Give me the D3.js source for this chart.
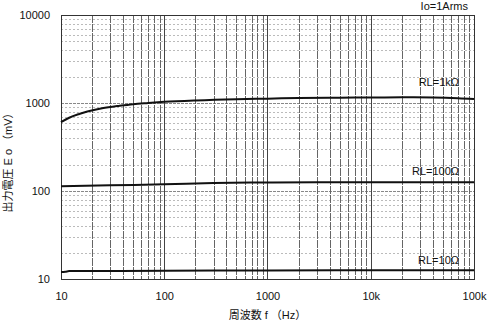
<!DOCTYPE html>
<meta charset="utf-8">
<style>
body { margin: 0; background: #fff; }
svg text { font-family: 'Liberation Sans', 'Noto Sans CJK JP', sans-serif; fill: #111; }
.tick-label { font-size: 11px; }
.ylab { font-size: 11px; }
.series-label { font-size: 11px; }
.grid-v { stroke: #444; stroke-width: 1; }
.grid-v.minor { stroke: #666; stroke-dasharray: 8 1; }
.grid-h { stroke: #bbb; stroke-width: 1; stroke-dasharray: 2 2; }
.grid-h.major { stroke: #888; stroke-dasharray: 3 1; }
.line { fill: none; stroke: #111; stroke-width: 2px; }
</style>
<svg id="svg" width="488" height="328"></svg>
<script src="https://cdn.jsdelivr.net/npm/d3@7"></script>
<script>

// frequency (Hz) / output voltage (mV)
let freq1k = [10, 12, 15, 18, 25, 37, 50, 70, 100, 200, 500, 1000, 2000, 5000, 10000, 20000, 40000, 70000, 100000]
let volt1k = [605, 680, 750, 800, 870, 930, 970, 1000, 1030, 1070, 1105, 1120, 1140, 1150, 1155, 1160, 1155, 1135, 1110]

let freq100 = [10, 30, 100, 300, 1000, 3000, 10000, 100000]
let volt100 = [113, 116, 119, 123, 125, 126, 126, 126]

let freq10 = [10, 11, 12, 100, 1000, 10000, 100000]
let volt10 = [12.0, 12.1, 12.3, 12.4, 12.5, 12.6, 12.6]

let xTicks = [10, 100, 1000, 10000, 100000]
let xTickText = ['10', '100', '1000', '10k', '100k']
let yTicks = [10, 100, 1000, 10000]
let yTickText = ['10', '100', '1000', '10000']

let seriesNames = ['RL=1kΩ', 'RL=100Ω', 'RL=10Ω']

function translate(x, y) {
    return 'translate(' + x + ',' + y + ')';
}

let width = 488, height = 328
let margin = {top: 15, right: 14, bottom: 49, left: 61}
let w = width - margin.left - margin.right,
    h = height - margin.top - margin.bottom

let svg = d3.select('#svg')
let g = svg.append('g').attr('transform', translate(margin.left, margin.top))

let x = d3.scaleLog().domain([10, 100000]).range([0, w])
let y = d3.scaleLog().domain([10, 10000]).range([h, 0])

// grid: 2..9 inside each decade
let minorX = [], minorY = []
for (let d = 10; d < 100000; d *= 10)
    for (let k = 2; k <= 9; k++) minorX.push(d * k)
for (let d = 10; d < 10000; d *= 10)
    for (let k = 2; k <= 9; k++) minorY.push(d * k)

g.selectAll('.grid-h.minor').data(minorY).enter().append('line')
    .attr('class', 'grid-h minor')
    .attr('x1', 0).attr('x2', w)
    .attr('y1', d => Math.round(y(d)) + 0.5).attr('y2', d => Math.round(y(d)) + 0.5)

g.selectAll('.grid-h.major').data(yTicks.slice(1, -1)).enter().append('line')
    .attr('class', 'grid-h major')
    .attr('x1', 0).attr('x2', w)
    .attr('y1', d => Math.round(y(d)) + 0.5).attr('y2', d => Math.round(y(d)) + 0.5)

g.selectAll('.grid-v.minor').data(minorX).enter().append('line')
    .attr('class', 'grid-v minor')
    .attr('y1', 0).attr('y2', h)
    .attr('x1', d => Math.round(x(d)) + 0.5).attr('x2', d => Math.round(x(d)) + 0.5)

g.selectAll('.grid-v.major').data(xTicks.slice(1, -1)).enter().append('line')
    .attr('class', 'grid-v major')
    .attr('y1', 0).attr('y2', h)
    .attr('x1', d => Math.round(x(d)) + 0.5).attr('x2', d => Math.round(x(d)) + 0.5)

g.append('rect')
    .attr('x', 0.5).attr('y', 0.5)
    .attr('width', w).attr('height', h)
    .attr('fill', 'none').attr('stroke', '#333').attr('stroke-width', 1)

// axes, lines hidden, only labels kept
let xAxis = d3.axisBottom(x).tickValues(xTicks).tickFormat((d, i) => xTickText[i]).tickSize(0).tickPadding(13)
let gx = g.append('g').attr('transform', translate(0, h)).call(xAxis)
gx.select('.domain').remove()
gx.selectAll('text').attr('class', 'tick-label').attr('fill', '#111')

let yAxis = d3.axisLeft(y).tickValues(yTicks).tickFormat((d, i) => yTickText[i]).tickSize(0).tickPadding(11)
let gy = g.append('g').call(yAxis)
gy.select('.domain').remove()
gy.selectAll('text').attr('class', 'tick-label').attr('fill', '#111')
gx.attr('font-size', null).attr('font-family', null)
gy.attr('font-size', null).attr('font-family', null)

// curves
let line = d3.line()
    .curve(d3.curveMonotoneX)
    .x(d => x(d[0]))
    .y(d => y(d[1]))

let series = [
    d3.zip(freq1k, volt1k),
    d3.zip(freq100, volt100),
    d3.zip(freq10, volt10)
]

g.selectAll('.line').data(series).enter().append('path')
    .attr('class', 'line')
    .attr('d', d => line(d))

// series labels
let labelY = [86, 175, 264]
g.selectAll('.series-label').data(seriesNames).enter().append('text')
    .attr('class', 'series-label')
    .attr('x', 398)
    .attr('y', (d, i) => labelY[i] - margin.top)
    .attr('text-anchor', 'end')
    .text(d => d)

svg.append('text')
    .attr('class', 'series-label')
    .attr('x', 468).attr('y', 10)
    .attr('text-anchor', 'end')
    .text('Io=1Arms')

svg.append('text')
    .attr('class', 'ylab')
    .attr('x', margin.left + w / 2).attr('y', 319)
    .attr('text-anchor', 'middle')
    .text('周波数 f （Hz）')

svg.append('text')
    .attr('class', 'ylab')
    .attr('transform', translate(12, 160) + ' rotate(-90)')
    .attr('text-anchor', 'middle')
    .text('出力電圧 E o （mV）')

</script>
